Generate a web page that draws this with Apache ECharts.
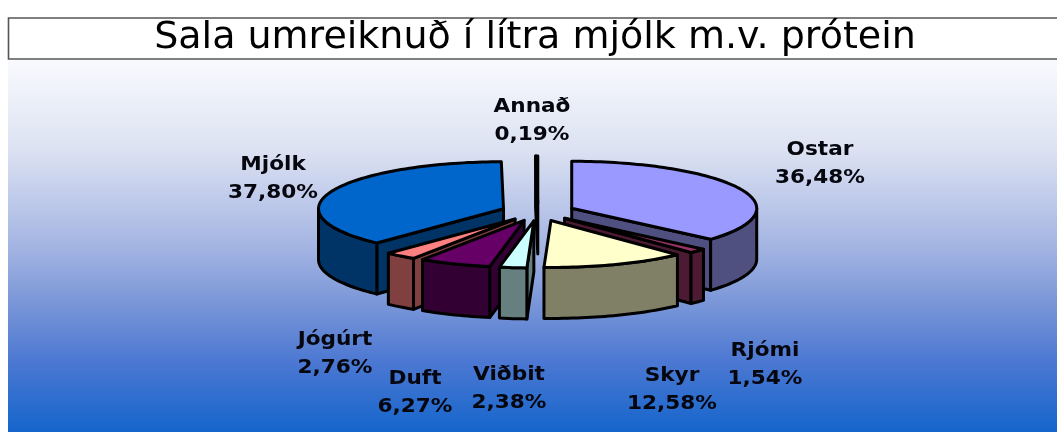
<!DOCTYPE html>
<html><head><meta charset="utf-8">
<style>html,body{margin:0;padding:0;background:#fff}#c{width:1057px;height:432px}</style>
<script src="https://cdn.jsdelivr.net/npm/echarts@6/dist/echarts.min.js"></script>
</head><body><div id="c"></div>
<script>
const titleText = 'Sala umreiknuð í lítra mjólk m.v. prótein';
const categories = ['Ostar','Rjómi','Skyr','Viðbit','Duft','Jógúrt','Mjólk','Annað'];
const shares = [36.48,1.54,12.58,2.38,6.27,2.76,37.80,0.19];

// styling / layout, separate from the data
const topColors  = ['#9999FF','#993366','#FFFFCC','#CCFFFF','#660066','#FF8080','#0066CC','#CCCCFF'];
const wallColors = ['#4F4F80','#4D1A33','#808066','#668080','#330033','#804040','#003366','#666680'];
const labelCx = [820,765,672,509,415,335,273,532];
const labelCy = [164,365,390,389,393,354,179,121];
const drawOrder = [7,6,0,1,5,4,3,2];
const PIE = {cx:538, cy:212, rx:185, ry:47, depth:51, ex:37, ey:9};

const chart = echarts.init(document.getElementById('c'), null, {renderer:'canvas'});
const total = shares.reduce((a,b)=>a+b,0);
const starts = []; { let c=0; shares.forEach(v=>{starts.push(c/total*360); c+=v;}); }
const rad = d=>d*Math.PI/180;

function renderSlice(params, api){
  const i = api.value(0), share = api.value(1);
  const a0 = starts[i], a1 = a0 + share/total*360, mid=(a0+a1)/2;
  const ax = PIE.cx + Math.sin(rad(mid))*PIE.ex, ay = PIE.cy - Math.cos(rad(mid))*PIE.ey;
  const pt = (a,dy)=>[ax+Math.sin(rad(a))*PIE.rx, ay-Math.cos(rad(a))*PIE.ry+(dy||0)];
  const arc = (s,e,dy)=>{const n=Math.max(2,Math.ceil((e-s)/1.5)),o=[];for(let k=0;k<=n;k++)o.push(pt(s+(e-s)*k/n,dy));return o;};
  const stroke = {stroke:'#000',lineWidth:3,lineJoin:'round'};
  const children=[];
  const poly=(points,fill)=>children.push({type:'polygon',shape:{points},style:Object.assign({fill},stroke)});
  const radialWall=a=>poly([[ax,ay],pt(a),pt(a,PIE.depth),[ax,ay+PIE.depth]],wallColors[i]);
  if(a0>=180&&a0<360) radialWall(a0);
  if(a1>0&&a1<180) radialWall(a1);
  const s=Math.max(a0,90), e=Math.min(a1,270);
  if(e>s) poly(arc(s,e,0).concat(arc(s,e,PIE.depth).reverse()),wallColors[i]);
  poly([[ax,ay]].concat(arc(a0,a1,0)),topColors[i]);
  children.push({type:'text',x:labelCx[i],y:labelCy[i],scaleX:1.08,
    style:{text:categories[i]+'\n'+share.toFixed(2).replace('.',',')+'%',
      font:'bold 20px "DejaVu Sans"',fill:'#06060e',align:'center',verticalAlign:'middle',lineHeight:28}});
  return {type:'group',children};
}

chart.setOption({
  animation:false,
  graphic:[
    {type:'rect',z:-10,shape:{x:8,y:60,width:1049,height:372},
     style:{fill:new echarts.graphic.LinearGradient(0,0,0,1,[
       {offset:0,color:'#F9FAFE'},{offset:0.24,color:'#DCE2F2'},{offset:0.51,color:'#A2B3E2'},
       {offset:0.65,color:'#7B97D8'},{offset:0.81,color:'#4C78D2'},{offset:1,color:'#1565CC'}])}},
    {type:'rect',z:-9,shape:{x:8.5,y:18,width:1060,height:41},style:{fill:'#fff',stroke:'#555',lineWidth:1.6}},
    {type:'text',z:-8,x:535,y:38,style:{text:titleText,font:'38px "DejaVu Sans"',fill:'#000',align:'center',verticalAlign:'middle'}}
  ],
  series:[{type:'custom',coordinateSystem:'none',silent:true,
    data:drawOrder.map(i=>[i,shares[i]]),renderItem:renderSlice}]
});
</script></body></html>
